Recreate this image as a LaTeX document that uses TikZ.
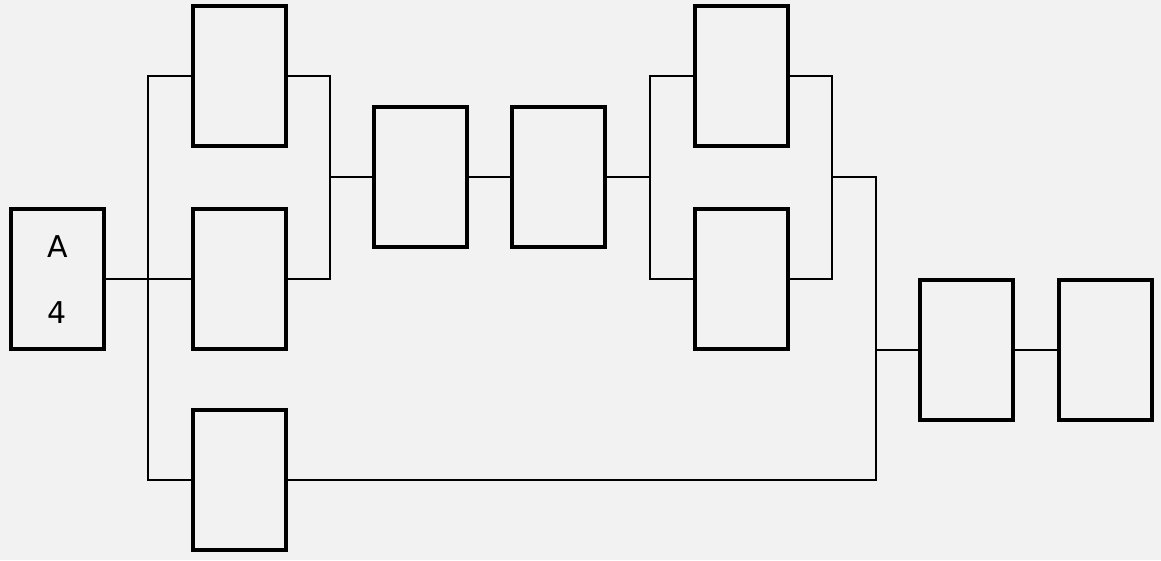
\documentclass[tikz,border=0pt]{standalone}
\usepackage{fontspec}
\setmainfont{DejaVu Sans}
\begin{document}
\begin{tikzpicture}[x=1pt,y=-1pt,
  blk/.style={draw=black,line width=4pt,fill=none,minimum width=93pt,minimum height=140pt,inner sep=0pt},
  wire/.style={draw=black,line width=2pt}]
\fill[fill={rgb,255:red,242;green,242;blue,242}] (0,0) rectangle (1161,560);
\useasboundingbox (0,0) rectangle (1161,560);
\node[blk] (a) at (57.5,279) {};
\node[font=\fontsize{30}{30}\selectfont] (la) at (57.5,247) {A};
\node[font=\fontsize{30}{30}\selectfont] (l4) at (57.5,313) {4};
\node[blk] (b1) at (239.5,76) {};
\node[blk] (b2) at (239.5,279) {};
\node[blk] (b3) at (239.5,480) {};
\node[blk] (c1) at (420,177) {};
\node[blk] (c2) at (558.5,177) {};
\node[blk] (d1) at (741.5,76) {};
\node[blk] (d2) at (741.5,279) {};
\node[blk] (e1) at (966.5,350) {};
\node[blk] (e2) at (1105,350) {};
\coordinate (j1t) at (148,76);
\coordinate (j1b) at (148,480);
\coordinate (j2t) at (330,76);
\coordinate (j2b) at (330,279);
\coordinate (j2m) at (330,177);
\coordinate (j3t) at (650,76);
\coordinate (j3b) at (650,279);
\coordinate (j4t) at (832,76);
\coordinate (j4b) at (832,279);
\coordinate (j4m) at (832,177);
\coordinate (j5t) at (876,177);
\coordinate (j5b) at (876,480);
\coordinate (j5m) at (876,350);
\draw[wire] (a.east) -- (b2.west);
\draw[wire] (b1.west) -- (j1t) -- (j1b) -- (b3.west);
\draw[wire] (b1.east) -- (j2t) -- (j2b) -- (b2.east);
\draw[wire] (j2m) -- (c1.west);
\draw[wire] (c1.east) -- (c2.west);
\draw[wire] (c2.east) -- (c2.east -| j3t);
\draw[wire] (d1.west) -- (j3t) -- (j3b) -- (d2.west);
\draw[wire] (d1.east) -- (j4t) -- (j4b) -- (d2.east);
\draw[wire] (j4m) -- (j5t) -- (j5b) -- (b3.east);
\draw[wire] (j5m) -- (e1.west);
\draw[wire] (e1.east) -- (e2.west);
\end{tikzpicture}
\end{document}
